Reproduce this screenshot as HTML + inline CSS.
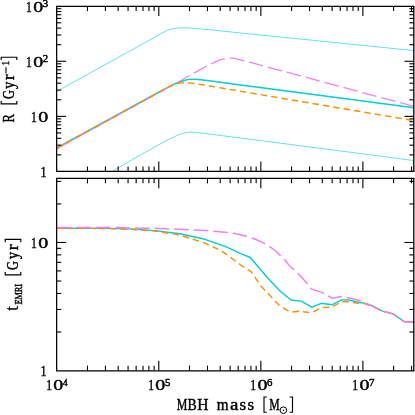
<!DOCTYPE html>
<html><head><meta charset="utf-8"><style>
html,body{margin:0;padding:0;background:#fff;}
body{width:415px;height:415px;overflow:hidden;font-family:"Liberation Serif",serif;}
svg{display:block;will-change:transform;opacity:0.999;}
</style></head><body>
<svg width="415" height="415" viewBox="0 0 415 415" font-family="Liberation Serif, serif" fill="#000" stroke-linecap="butt"><clipPath id="c1"><rect x="56.75" y="6.2" width="357.15" height="165.25"/></clipPath>
<clipPath id="c2"><rect x="56.75" y="178.45" width="357.15" height="192.10000000000002"/></clipPath>
<g clip-path="url(#c1)">
<polyline points="56.75,91.40 95.10,70.20 130.00,50.90 150.00,39.80 158.70,34.80 167.30,30.40 171.00,29.20 174.60,28.40 180.40,27.80 189.00,27.80 193.40,28.40 200.00,28.90 210.00,29.70 234.00,32.30 304.00,39.40 413.90,50.60" fill="none" stroke="#00CED1" stroke-width="0.6" stroke-linejoin="round"/>
<polyline points="112.20,171.30 133.90,158.60 160.00,144.10 170.00,138.70 177.70,135.10 183.00,133.20 189.00,132.10 195.00,132.20 200.00,132.80 214.00,134.60 311.00,147.10 413.90,160.60" fill="none" stroke="#00CED1" stroke-width="0.6" stroke-linejoin="round"/>
<polyline points="56.75,148.00 150.00,97.00 165.00,88.90 175.00,83.70 180.00,81.80 184.00,80.50 188.70,79.40 195.00,79.30 201.00,79.70 215.00,81.50 235.00,84.20 304.00,93.20 413.90,107.70" fill="none" stroke="#00CED1" stroke-width="1.45" stroke-linejoin="round"/>
<path d="M56.75,148.60 L69.55,141.58 M73.92,139.19 L86.72,132.17 M91.09,129.78 L103.90,122.76 M108.26,120.37 L121.07,113.36 M125.43,110.96 L138.24,103.95 M142.60,101.55 L150.00,97.50 L155.42,94.55 M159.79,92.17 L172.62,85.20 M176.97,82.78 L189.66,75.56 M193.99,73.10 L206.76,66.02 M211.28,63.93 L215.00,62.20 L219.80,59.90 L224.87,58.85 M229.80,58.16 L230.20,58.10 L233.00,58.20 L236.70,58.90 L244.07,60.86 M248.91,62.02 L249.70,62.20 L263.02,65.80 M267.82,67.12 L275.00,69.10 L281.91,70.93 M286.73,72.20 L300.84,75.93 M305.65,77.23 L311.00,78.70 L319.74,81.05 M324.55,82.35 L338.65,86.14 M343.45,87.44 L357.55,91.23 M362.36,92.53 L376.46,96.32 M381.27,97.62 L395.37,101.41 M400.18,102.71 L413.90,106.40" fill="none" stroke="#EE82EE" stroke-width="1.3" stroke-linejoin="round"/>
<path d="M57.10,148.11 L62.71,145.03 M66.33,143.05 L71.94,139.98 M75.55,138.00 L81.16,134.92 M84.78,132.94 L90.39,129.87 M94.00,127.89 L99.62,124.81 M103.23,122.83 L108.84,119.75 M112.45,117.77 L118.07,114.70 M121.68,112.72 L127.29,109.64 M130.91,107.66 L136.52,104.59 M140.13,102.61 L145.74,99.53 M149.36,97.55 L150.00,97.20 L154.96,94.46 M158.56,92.46 L164.16,89.36 M167.81,87.45 L172.00,85.30 L173.60,84.74 M177.54,83.58 L180.80,82.90 L183.87,82.75 M187.98,82.83 L189.50,82.90 L194.34,83.52 M198.42,84.11 L201.00,84.50 L204.74,85.14 M208.80,85.83 L215.11,86.91 M219.17,87.60 L225.48,88.68 M229.54,89.37 L235.00,90.30 L235.85,90.44 M239.91,91.13 L246.22,92.20 M250.28,92.89 L256.59,93.96 M260.65,94.65 L266.96,95.72 M271.02,96.41 L277.33,97.48 M281.40,98.17 L287.71,99.24 M291.77,99.93 L298.08,101.00 M302.14,101.68 L304.00,102.00 L308.45,102.76 M312.51,103.45 L318.82,104.52 M322.88,105.21 L329.19,106.29 M333.25,106.98 L339.56,108.05 M343.62,108.74 L349.93,109.82 M354.00,110.51 L360.30,111.58 M364.37,112.27 L370.68,113.35 M374.74,114.04 L381.05,115.11 M385.11,115.80 L391.42,116.87 M395.48,117.57 L401.79,118.64 M405.85,119.33 L412.16,120.40" fill="none" stroke="#FF8C00" stroke-width="1.45" stroke-linejoin="round"/>
</g>
<g clip-path="url(#c2)">
<polyline points="56.75,228.30 105.00,228.40 130.00,228.90 155.00,230.60 180.00,233.80 205.00,239.30 220.00,244.60 225.00,246.40 234.00,250.30 239.50,253.20 250.30,257.50 265.10,275.00 274.20,285.00 280.80,291.70 291.00,300.00 301.10,301.10 311.90,307.20 321.30,303.30 332.30,304.70 341.70,299.90 348.30,299.90 359.80,302.50 363.70,303.10 372.30,306.00 382.50,311.10 393.30,314.00 404.20,321.60 413.90,322.20" fill="none" stroke="#00CED1" stroke-width="1.4" stroke-linejoin="round"/>
<path d="M57.15,228.30 L63.55,228.32 M67.67,228.33 L74.07,228.35 M78.19,228.37 L84.59,228.39 M88.71,228.40 L95.11,228.42 M99.23,228.43 L105.00,228.45 L105.63,228.47 M109.75,228.61 L116.14,228.83 M120.26,228.97 L126.66,229.19 M130.77,229.36 L137.16,229.82 M141.27,230.11 L147.65,230.57 M151.76,230.87 L155.00,231.10 L158.11,231.60 M162.18,232.25 L168.50,233.26 M172.57,233.91 L178.89,234.92 M182.85,236.01 L188.95,237.96 M192.87,239.22 L198.97,241.17 M202.89,242.42 L205.00,243.10 L208.79,244.87 M212.52,246.61 L218.32,249.32 M221.93,251.30 L225.00,253.20 L227.23,254.87 M230.53,257.33 L233.70,259.70 L235.65,261.18 M238.94,263.66 L242.30,266.20 L244.16,267.35 M247.66,269.53 L251.00,271.60 L252.41,273.63 M254.76,277.01 L258.30,282.10 L258.40,282.28 M260.55,285.76 L265.03,290.33 M267.91,293.27 L270.00,295.40 L272.32,297.91 M275.12,300.93 L278.70,304.80 L279.64,305.43 M283.08,307.70 L287.30,310.50 L288.58,310.88 M292.54,311.99 L298.90,311.30 L298.90,311.30 M302.99,311.78 L308.30,312.40 L309.36,312.40 M313.37,311.98 L318.97,308.88 M322.76,307.53 L328.00,307.30 L329.15,307.19 M333.13,306.42 L338.68,303.24 M342.33,301.53 L348.30,301.80 L348.72,301.86 M352.80,302.47 L359.13,303.40 M363.24,303.41 L363.70,303.40 L369.35,305.24 M373.22,306.64 L378.99,309.41 M382.71,311.16 L388.89,312.82 M392.87,313.89 L393.30,314.00 L398.19,317.41 M401.57,319.76 L404.20,321.60 L407.38,321.80 M411.50,322.05 L413.90,322.20" fill="none" stroke="#FF8C00" stroke-width="1.4" stroke-linejoin="round"/>
<path d="M56.75,227.40 L71.35,227.43 M76.33,227.44 L90.93,227.46 M95.91,227.47 L110.00,227.50 L110.51,227.51 M115.49,227.61 L130.00,227.90 L130.09,227.90 M135.07,227.98 L149.66,228.19 M154.64,228.37 L169.23,228.91 M174.21,229.09 L180.00,229.30 L188.79,229.76 M193.76,230.02 L205.00,230.60 L208.34,230.87 M213.30,231.26 L225.00,232.20 L227.84,232.55 M232.79,233.15 L234.00,233.30 L246.70,236.30 L247.01,236.41 M251.72,238.03 L256.00,239.50 L264.00,243.10 L265.11,243.78 M269.35,246.40 L270.00,246.80 L275.60,251.00 L280.64,255.61 M284.16,259.14 L285.00,260.00 L288.80,265.00 L294.01,269.85 M297.65,273.24 L298.90,274.40 L307.60,283.80 L307.65,283.87 M310.52,287.94 L311.20,288.90 L315.00,290.20 L320.60,291.90 L323.00,293.10 L323.77,293.52 M328.13,295.91 L332.30,298.20 L341.70,296.50 L341.99,296.55 M346.89,297.40 L359.80,300.60 L360.96,301.19 M365.48,303.26 L372.30,305.80 L378.80,309.18 M383.28,311.31 L393.30,314.00 L396.77,316.42 M400.85,319.27 L404.20,321.60 L413.90,322.20" fill="none" stroke="#EE82EE" stroke-width="1.5" stroke-linejoin="round"/>
</g>
<line x1="56.03" y1="6.30" x2="414.42" y2="6.30" stroke="#000" stroke-width="1.25"/>
<line x1="56.03" y1="171.30" x2="414.42" y2="171.30" stroke="#000" stroke-width="1.25"/>
<line x1="56.65" y1="6.30" x2="56.65" y2="171.30" stroke="#000" stroke-width="1.25"/>
<line x1="413.80" y1="6.30" x2="413.80" y2="171.30" stroke="#000" stroke-width="1.3"/>
<line x1="56.03" y1="178.25" x2="414.42" y2="178.25" stroke="#000" stroke-width="1.25"/>
<line x1="56.03" y1="370.95" x2="414.42" y2="370.95" stroke="#000" stroke-width="1.2"/>
<line x1="56.65" y1="178.25" x2="56.65" y2="370.95" stroke="#000" stroke-width="1.25"/>
<line x1="413.80" y1="178.25" x2="413.80" y2="370.95" stroke="#000" stroke-width="1.3"/>
<line x1="87.47" y1="6.20" x2="87.47" y2="11.10" stroke="#000" stroke-width="1.1"/>
<line x1="87.47" y1="171.45" x2="87.47" y2="166.55" stroke="#000" stroke-width="1.1"/>
<line x1="105.44" y1="6.20" x2="105.44" y2="11.10" stroke="#000" stroke-width="1.1"/>
<line x1="105.44" y1="171.45" x2="105.44" y2="166.55" stroke="#000" stroke-width="1.1"/>
<line x1="118.19" y1="6.20" x2="118.19" y2="11.10" stroke="#000" stroke-width="1.1"/>
<line x1="118.19" y1="171.45" x2="118.19" y2="166.55" stroke="#000" stroke-width="1.1"/>
<line x1="128.07" y1="6.20" x2="128.07" y2="11.10" stroke="#000" stroke-width="1.1"/>
<line x1="128.07" y1="171.45" x2="128.07" y2="166.55" stroke="#000" stroke-width="1.1"/>
<line x1="136.15" y1="6.20" x2="136.15" y2="11.10" stroke="#000" stroke-width="1.1"/>
<line x1="136.15" y1="171.45" x2="136.15" y2="166.55" stroke="#000" stroke-width="1.1"/>
<line x1="142.99" y1="6.20" x2="142.99" y2="11.10" stroke="#000" stroke-width="1.1"/>
<line x1="142.99" y1="171.45" x2="142.99" y2="166.55" stroke="#000" stroke-width="1.1"/>
<line x1="148.90" y1="6.20" x2="148.90" y2="11.10" stroke="#000" stroke-width="1.1"/>
<line x1="148.90" y1="171.45" x2="148.90" y2="166.55" stroke="#000" stroke-width="1.1"/>
<line x1="154.12" y1="6.20" x2="154.12" y2="11.10" stroke="#000" stroke-width="1.1"/>
<line x1="154.12" y1="171.45" x2="154.12" y2="166.55" stroke="#000" stroke-width="1.1"/>
<line x1="158.79" y1="6.20" x2="158.79" y2="16.10" stroke="#000" stroke-width="1.1"/>
<line x1="158.79" y1="171.45" x2="158.79" y2="161.55" stroke="#000" stroke-width="1.1"/>
<line x1="189.51" y1="6.20" x2="189.51" y2="11.10" stroke="#000" stroke-width="1.1"/>
<line x1="189.51" y1="171.45" x2="189.51" y2="166.55" stroke="#000" stroke-width="1.1"/>
<line x1="207.48" y1="6.20" x2="207.48" y2="11.10" stroke="#000" stroke-width="1.1"/>
<line x1="207.48" y1="171.45" x2="207.48" y2="166.55" stroke="#000" stroke-width="1.1"/>
<line x1="220.23" y1="6.20" x2="220.23" y2="11.10" stroke="#000" stroke-width="1.1"/>
<line x1="220.23" y1="171.45" x2="220.23" y2="166.55" stroke="#000" stroke-width="1.1"/>
<line x1="230.12" y1="6.20" x2="230.12" y2="11.10" stroke="#000" stroke-width="1.1"/>
<line x1="230.12" y1="171.45" x2="230.12" y2="166.55" stroke="#000" stroke-width="1.1"/>
<line x1="238.20" y1="6.20" x2="238.20" y2="11.10" stroke="#000" stroke-width="1.1"/>
<line x1="238.20" y1="171.45" x2="238.20" y2="166.55" stroke="#000" stroke-width="1.1"/>
<line x1="245.03" y1="6.20" x2="245.03" y2="11.10" stroke="#000" stroke-width="1.1"/>
<line x1="245.03" y1="171.45" x2="245.03" y2="166.55" stroke="#000" stroke-width="1.1"/>
<line x1="250.95" y1="6.20" x2="250.95" y2="11.10" stroke="#000" stroke-width="1.1"/>
<line x1="250.95" y1="171.45" x2="250.95" y2="166.55" stroke="#000" stroke-width="1.1"/>
<line x1="256.17" y1="6.20" x2="256.17" y2="11.10" stroke="#000" stroke-width="1.1"/>
<line x1="256.17" y1="171.45" x2="256.17" y2="166.55" stroke="#000" stroke-width="1.1"/>
<line x1="260.84" y1="6.20" x2="260.84" y2="16.10" stroke="#000" stroke-width="1.1"/>
<line x1="260.84" y1="171.45" x2="260.84" y2="161.55" stroke="#000" stroke-width="1.1"/>
<line x1="291.55" y1="6.20" x2="291.55" y2="11.10" stroke="#000" stroke-width="1.1"/>
<line x1="291.55" y1="171.45" x2="291.55" y2="166.55" stroke="#000" stroke-width="1.1"/>
<line x1="309.52" y1="6.20" x2="309.52" y2="11.10" stroke="#000" stroke-width="1.1"/>
<line x1="309.52" y1="171.45" x2="309.52" y2="166.55" stroke="#000" stroke-width="1.1"/>
<line x1="322.27" y1="6.20" x2="322.27" y2="11.10" stroke="#000" stroke-width="1.1"/>
<line x1="322.27" y1="171.45" x2="322.27" y2="166.55" stroke="#000" stroke-width="1.1"/>
<line x1="332.16" y1="6.20" x2="332.16" y2="11.10" stroke="#000" stroke-width="1.1"/>
<line x1="332.16" y1="171.45" x2="332.16" y2="166.55" stroke="#000" stroke-width="1.1"/>
<line x1="340.24" y1="6.20" x2="340.24" y2="11.10" stroke="#000" stroke-width="1.1"/>
<line x1="340.24" y1="171.45" x2="340.24" y2="166.55" stroke="#000" stroke-width="1.1"/>
<line x1="347.07" y1="6.20" x2="347.07" y2="11.10" stroke="#000" stroke-width="1.1"/>
<line x1="347.07" y1="171.45" x2="347.07" y2="166.55" stroke="#000" stroke-width="1.1"/>
<line x1="352.99" y1="6.20" x2="352.99" y2="11.10" stroke="#000" stroke-width="1.1"/>
<line x1="352.99" y1="171.45" x2="352.99" y2="166.55" stroke="#000" stroke-width="1.1"/>
<line x1="358.21" y1="6.20" x2="358.21" y2="11.10" stroke="#000" stroke-width="1.1"/>
<line x1="358.21" y1="171.45" x2="358.21" y2="166.55" stroke="#000" stroke-width="1.1"/>
<line x1="362.88" y1="6.20" x2="362.88" y2="16.10" stroke="#000" stroke-width="1.1"/>
<line x1="362.88" y1="171.45" x2="362.88" y2="161.55" stroke="#000" stroke-width="1.1"/>
<line x1="393.60" y1="6.20" x2="393.60" y2="11.10" stroke="#000" stroke-width="1.1"/>
<line x1="393.60" y1="171.45" x2="393.60" y2="166.55" stroke="#000" stroke-width="1.1"/>
<line x1="411.57" y1="6.20" x2="411.57" y2="11.10" stroke="#000" stroke-width="1.1"/>
<line x1="411.57" y1="171.45" x2="411.57" y2="166.55" stroke="#000" stroke-width="1.1"/>
<line x1="87.47" y1="178.45" x2="87.47" y2="183.35" stroke="#000" stroke-width="1.1"/>
<line x1="87.47" y1="370.55" x2="87.47" y2="365.65" stroke="#000" stroke-width="1.1"/>
<line x1="105.44" y1="178.45" x2="105.44" y2="183.35" stroke="#000" stroke-width="1.1"/>
<line x1="105.44" y1="370.55" x2="105.44" y2="365.65" stroke="#000" stroke-width="1.1"/>
<line x1="118.19" y1="178.45" x2="118.19" y2="183.35" stroke="#000" stroke-width="1.1"/>
<line x1="118.19" y1="370.55" x2="118.19" y2="365.65" stroke="#000" stroke-width="1.1"/>
<line x1="128.07" y1="178.45" x2="128.07" y2="183.35" stroke="#000" stroke-width="1.1"/>
<line x1="128.07" y1="370.55" x2="128.07" y2="365.65" stroke="#000" stroke-width="1.1"/>
<line x1="136.15" y1="178.45" x2="136.15" y2="183.35" stroke="#000" stroke-width="1.1"/>
<line x1="136.15" y1="370.55" x2="136.15" y2="365.65" stroke="#000" stroke-width="1.1"/>
<line x1="142.99" y1="178.45" x2="142.99" y2="183.35" stroke="#000" stroke-width="1.1"/>
<line x1="142.99" y1="370.55" x2="142.99" y2="365.65" stroke="#000" stroke-width="1.1"/>
<line x1="148.90" y1="178.45" x2="148.90" y2="183.35" stroke="#000" stroke-width="1.1"/>
<line x1="148.90" y1="370.55" x2="148.90" y2="365.65" stroke="#000" stroke-width="1.1"/>
<line x1="154.12" y1="178.45" x2="154.12" y2="183.35" stroke="#000" stroke-width="1.1"/>
<line x1="154.12" y1="370.55" x2="154.12" y2="365.65" stroke="#000" stroke-width="1.1"/>
<line x1="158.79" y1="178.45" x2="158.79" y2="188.35" stroke="#000" stroke-width="1.1"/>
<line x1="158.79" y1="370.55" x2="158.79" y2="360.65" stroke="#000" stroke-width="1.1"/>
<line x1="189.51" y1="178.45" x2="189.51" y2="183.35" stroke="#000" stroke-width="1.1"/>
<line x1="189.51" y1="370.55" x2="189.51" y2="365.65" stroke="#000" stroke-width="1.1"/>
<line x1="207.48" y1="178.45" x2="207.48" y2="183.35" stroke="#000" stroke-width="1.1"/>
<line x1="207.48" y1="370.55" x2="207.48" y2="365.65" stroke="#000" stroke-width="1.1"/>
<line x1="220.23" y1="178.45" x2="220.23" y2="183.35" stroke="#000" stroke-width="1.1"/>
<line x1="220.23" y1="370.55" x2="220.23" y2="365.65" stroke="#000" stroke-width="1.1"/>
<line x1="230.12" y1="178.45" x2="230.12" y2="183.35" stroke="#000" stroke-width="1.1"/>
<line x1="230.12" y1="370.55" x2="230.12" y2="365.65" stroke="#000" stroke-width="1.1"/>
<line x1="238.20" y1="178.45" x2="238.20" y2="183.35" stroke="#000" stroke-width="1.1"/>
<line x1="238.20" y1="370.55" x2="238.20" y2="365.65" stroke="#000" stroke-width="1.1"/>
<line x1="245.03" y1="178.45" x2="245.03" y2="183.35" stroke="#000" stroke-width="1.1"/>
<line x1="245.03" y1="370.55" x2="245.03" y2="365.65" stroke="#000" stroke-width="1.1"/>
<line x1="250.95" y1="178.45" x2="250.95" y2="183.35" stroke="#000" stroke-width="1.1"/>
<line x1="250.95" y1="370.55" x2="250.95" y2="365.65" stroke="#000" stroke-width="1.1"/>
<line x1="256.17" y1="178.45" x2="256.17" y2="183.35" stroke="#000" stroke-width="1.1"/>
<line x1="256.17" y1="370.55" x2="256.17" y2="365.65" stroke="#000" stroke-width="1.1"/>
<line x1="260.84" y1="178.45" x2="260.84" y2="188.35" stroke="#000" stroke-width="1.1"/>
<line x1="260.84" y1="370.55" x2="260.84" y2="360.65" stroke="#000" stroke-width="1.1"/>
<line x1="291.55" y1="178.45" x2="291.55" y2="183.35" stroke="#000" stroke-width="1.1"/>
<line x1="291.55" y1="370.55" x2="291.55" y2="365.65" stroke="#000" stroke-width="1.1"/>
<line x1="309.52" y1="178.45" x2="309.52" y2="183.35" stroke="#000" stroke-width="1.1"/>
<line x1="309.52" y1="370.55" x2="309.52" y2="365.65" stroke="#000" stroke-width="1.1"/>
<line x1="322.27" y1="178.45" x2="322.27" y2="183.35" stroke="#000" stroke-width="1.1"/>
<line x1="322.27" y1="370.55" x2="322.27" y2="365.65" stroke="#000" stroke-width="1.1"/>
<line x1="332.16" y1="178.45" x2="332.16" y2="183.35" stroke="#000" stroke-width="1.1"/>
<line x1="332.16" y1="370.55" x2="332.16" y2="365.65" stroke="#000" stroke-width="1.1"/>
<line x1="340.24" y1="178.45" x2="340.24" y2="183.35" stroke="#000" stroke-width="1.1"/>
<line x1="340.24" y1="370.55" x2="340.24" y2="365.65" stroke="#000" stroke-width="1.1"/>
<line x1="347.07" y1="178.45" x2="347.07" y2="183.35" stroke="#000" stroke-width="1.1"/>
<line x1="347.07" y1="370.55" x2="347.07" y2="365.65" stroke="#000" stroke-width="1.1"/>
<line x1="352.99" y1="178.45" x2="352.99" y2="183.35" stroke="#000" stroke-width="1.1"/>
<line x1="352.99" y1="370.55" x2="352.99" y2="365.65" stroke="#000" stroke-width="1.1"/>
<line x1="358.21" y1="178.45" x2="358.21" y2="183.35" stroke="#000" stroke-width="1.1"/>
<line x1="358.21" y1="370.55" x2="358.21" y2="365.65" stroke="#000" stroke-width="1.1"/>
<line x1="362.88" y1="178.45" x2="362.88" y2="188.35" stroke="#000" stroke-width="1.1"/>
<line x1="362.88" y1="370.55" x2="362.88" y2="360.65" stroke="#000" stroke-width="1.1"/>
<line x1="393.60" y1="178.45" x2="393.60" y2="183.35" stroke="#000" stroke-width="1.1"/>
<line x1="393.60" y1="370.55" x2="393.60" y2="365.65" stroke="#000" stroke-width="1.1"/>
<line x1="411.57" y1="178.45" x2="411.57" y2="183.35" stroke="#000" stroke-width="1.1"/>
<line x1="411.57" y1="370.55" x2="411.57" y2="365.65" stroke="#000" stroke-width="1.1"/>
<line x1="56.75" y1="154.87" x2="61.25" y2="154.87" stroke="#000" stroke-width="1.1"/>
<line x1="413.90" y1="154.87" x2="409.40" y2="154.87" stroke="#000" stroke-width="1.1"/>
<line x1="56.75" y1="145.17" x2="61.25" y2="145.17" stroke="#000" stroke-width="1.1"/>
<line x1="413.90" y1="145.17" x2="409.40" y2="145.17" stroke="#000" stroke-width="1.1"/>
<line x1="56.75" y1="138.29" x2="61.25" y2="138.29" stroke="#000" stroke-width="1.1"/>
<line x1="413.90" y1="138.29" x2="409.40" y2="138.29" stroke="#000" stroke-width="1.1"/>
<line x1="56.75" y1="132.95" x2="61.25" y2="132.95" stroke="#000" stroke-width="1.1"/>
<line x1="413.90" y1="132.95" x2="409.40" y2="132.95" stroke="#000" stroke-width="1.1"/>
<line x1="56.75" y1="128.59" x2="61.25" y2="128.59" stroke="#000" stroke-width="1.1"/>
<line x1="413.90" y1="128.59" x2="409.40" y2="128.59" stroke="#000" stroke-width="1.1"/>
<line x1="56.75" y1="124.90" x2="61.25" y2="124.90" stroke="#000" stroke-width="1.1"/>
<line x1="413.90" y1="124.90" x2="409.40" y2="124.90" stroke="#000" stroke-width="1.1"/>
<line x1="56.75" y1="121.70" x2="61.25" y2="121.70" stroke="#000" stroke-width="1.1"/>
<line x1="413.90" y1="121.70" x2="409.40" y2="121.70" stroke="#000" stroke-width="1.1"/>
<line x1="56.75" y1="118.89" x2="61.25" y2="118.89" stroke="#000" stroke-width="1.1"/>
<line x1="413.90" y1="118.89" x2="409.40" y2="118.89" stroke="#000" stroke-width="1.1"/>
<line x1="56.75" y1="116.37" x2="66.15" y2="116.37" stroke="#000" stroke-width="1.1"/>
<line x1="413.90" y1="116.37" x2="404.50" y2="116.37" stroke="#000" stroke-width="1.1"/>
<line x1="56.75" y1="99.78" x2="61.25" y2="99.78" stroke="#000" stroke-width="1.1"/>
<line x1="413.90" y1="99.78" x2="409.40" y2="99.78" stroke="#000" stroke-width="1.1"/>
<line x1="56.75" y1="90.09" x2="61.25" y2="90.09" stroke="#000" stroke-width="1.1"/>
<line x1="413.90" y1="90.09" x2="409.40" y2="90.09" stroke="#000" stroke-width="1.1"/>
<line x1="56.75" y1="83.20" x2="61.25" y2="83.20" stroke="#000" stroke-width="1.1"/>
<line x1="413.90" y1="83.20" x2="409.40" y2="83.20" stroke="#000" stroke-width="1.1"/>
<line x1="56.75" y1="77.87" x2="61.25" y2="77.87" stroke="#000" stroke-width="1.1"/>
<line x1="413.90" y1="77.87" x2="409.40" y2="77.87" stroke="#000" stroke-width="1.1"/>
<line x1="56.75" y1="73.50" x2="61.25" y2="73.50" stroke="#000" stroke-width="1.1"/>
<line x1="413.90" y1="73.50" x2="409.40" y2="73.50" stroke="#000" stroke-width="1.1"/>
<line x1="56.75" y1="69.82" x2="61.25" y2="69.82" stroke="#000" stroke-width="1.1"/>
<line x1="413.90" y1="69.82" x2="409.40" y2="69.82" stroke="#000" stroke-width="1.1"/>
<line x1="56.75" y1="66.62" x2="61.25" y2="66.62" stroke="#000" stroke-width="1.1"/>
<line x1="413.90" y1="66.62" x2="409.40" y2="66.62" stroke="#000" stroke-width="1.1"/>
<line x1="56.75" y1="63.80" x2="61.25" y2="63.80" stroke="#000" stroke-width="1.1"/>
<line x1="413.90" y1="63.80" x2="409.40" y2="63.80" stroke="#000" stroke-width="1.1"/>
<line x1="56.75" y1="61.28" x2="66.15" y2="61.28" stroke="#000" stroke-width="1.1"/>
<line x1="413.90" y1="61.28" x2="404.50" y2="61.28" stroke="#000" stroke-width="1.1"/>
<line x1="56.75" y1="44.70" x2="61.25" y2="44.70" stroke="#000" stroke-width="1.1"/>
<line x1="413.90" y1="44.70" x2="409.40" y2="44.70" stroke="#000" stroke-width="1.1"/>
<line x1="56.75" y1="35.00" x2="61.25" y2="35.00" stroke="#000" stroke-width="1.1"/>
<line x1="413.90" y1="35.00" x2="409.40" y2="35.00" stroke="#000" stroke-width="1.1"/>
<line x1="56.75" y1="28.12" x2="61.25" y2="28.12" stroke="#000" stroke-width="1.1"/>
<line x1="413.90" y1="28.12" x2="409.40" y2="28.12" stroke="#000" stroke-width="1.1"/>
<line x1="56.75" y1="22.78" x2="61.25" y2="22.78" stroke="#000" stroke-width="1.1"/>
<line x1="413.90" y1="22.78" x2="409.40" y2="22.78" stroke="#000" stroke-width="1.1"/>
<line x1="56.75" y1="18.42" x2="61.25" y2="18.42" stroke="#000" stroke-width="1.1"/>
<line x1="413.90" y1="18.42" x2="409.40" y2="18.42" stroke="#000" stroke-width="1.1"/>
<line x1="56.75" y1="14.73" x2="61.25" y2="14.73" stroke="#000" stroke-width="1.1"/>
<line x1="413.90" y1="14.73" x2="409.40" y2="14.73" stroke="#000" stroke-width="1.1"/>
<line x1="56.75" y1="11.54" x2="61.25" y2="11.54" stroke="#000" stroke-width="1.1"/>
<line x1="413.90" y1="11.54" x2="409.40" y2="11.54" stroke="#000" stroke-width="1.1"/>
<line x1="56.75" y1="8.72" x2="61.25" y2="8.72" stroke="#000" stroke-width="1.1"/>
<line x1="413.90" y1="8.72" x2="409.40" y2="8.72" stroke="#000" stroke-width="1.1"/>
<line x1="56.75" y1="332.00" x2="61.25" y2="332.00" stroke="#000" stroke-width="1.1"/>
<line x1="413.90" y1="332.00" x2="409.40" y2="332.00" stroke="#000" stroke-width="1.1"/>
<line x1="56.75" y1="309.45" x2="61.25" y2="309.45" stroke="#000" stroke-width="1.1"/>
<line x1="413.90" y1="309.45" x2="409.40" y2="309.45" stroke="#000" stroke-width="1.1"/>
<line x1="56.75" y1="293.45" x2="61.25" y2="293.45" stroke="#000" stroke-width="1.1"/>
<line x1="413.90" y1="293.45" x2="409.40" y2="293.45" stroke="#000" stroke-width="1.1"/>
<line x1="56.75" y1="281.04" x2="61.25" y2="281.04" stroke="#000" stroke-width="1.1"/>
<line x1="413.90" y1="281.04" x2="409.40" y2="281.04" stroke="#000" stroke-width="1.1"/>
<line x1="56.75" y1="270.89" x2="61.25" y2="270.89" stroke="#000" stroke-width="1.1"/>
<line x1="413.90" y1="270.89" x2="409.40" y2="270.89" stroke="#000" stroke-width="1.1"/>
<line x1="56.75" y1="262.32" x2="61.25" y2="262.32" stroke="#000" stroke-width="1.1"/>
<line x1="413.90" y1="262.32" x2="409.40" y2="262.32" stroke="#000" stroke-width="1.1"/>
<line x1="56.75" y1="254.89" x2="61.25" y2="254.89" stroke="#000" stroke-width="1.1"/>
<line x1="413.90" y1="254.89" x2="409.40" y2="254.89" stroke="#000" stroke-width="1.1"/>
<line x1="56.75" y1="248.34" x2="61.25" y2="248.34" stroke="#000" stroke-width="1.1"/>
<line x1="413.90" y1="248.34" x2="409.40" y2="248.34" stroke="#000" stroke-width="1.1"/>
<line x1="56.75" y1="242.48" x2="66.15" y2="242.48" stroke="#000" stroke-width="1.1"/>
<line x1="413.90" y1="242.48" x2="404.50" y2="242.48" stroke="#000" stroke-width="1.1"/>
<line x1="56.75" y1="203.93" x2="61.25" y2="203.93" stroke="#000" stroke-width="1.1"/>
<line x1="413.90" y1="203.93" x2="409.40" y2="203.93" stroke="#000" stroke-width="1.1"/>
<line x1="56.75" y1="181.38" x2="61.25" y2="181.38" stroke="#000" stroke-width="1.1"/>
<line x1="413.90" y1="181.38" x2="409.40" y2="181.38" stroke="#000" stroke-width="1.1"/>
<g stroke="#000" stroke-width="0.42">
<text x="28.95" y="12.05" font-size="15.2" text-anchor="middle" textLength="5.8" lengthAdjust="spacingAndGlyphs">1</text>
<text x="38.25" y="12.05" font-size="15.2" text-anchor="middle" textLength="10.0" lengthAdjust="spacingAndGlyphs">0</text>
<text x="45.55" y="7.30" font-size="9.3" text-anchor="middle" textLength="5.4" lengthAdjust="spacingAndGlyphs">3</text>
<text x="28.95" y="67.20" font-size="15.2" text-anchor="middle" textLength="5.8" lengthAdjust="spacingAndGlyphs">1</text>
<text x="38.25" y="67.20" font-size="15.2" text-anchor="middle" textLength="10.0" lengthAdjust="spacingAndGlyphs">0</text>
<text x="45.55" y="62.45" font-size="9.3" text-anchor="middle" textLength="5.4" lengthAdjust="spacingAndGlyphs">2</text>
<text x="34.00" y="121.70" font-size="15.2" text-anchor="middle" textLength="5.8" lengthAdjust="spacingAndGlyphs">1</text>
<text x="43.30" y="121.70" font-size="15.2" text-anchor="middle" textLength="10.0" lengthAdjust="spacingAndGlyphs">0</text>
<text x="43.60" y="176.90" font-size="15.2" text-anchor="middle" textLength="6.0" lengthAdjust="spacingAndGlyphs">1</text>
<text x="34.00" y="247.90" font-size="15.2" text-anchor="middle" textLength="5.8" lengthAdjust="spacingAndGlyphs">1</text>
<text x="43.30" y="247.90" font-size="15.2" text-anchor="middle" textLength="10.0" lengthAdjust="spacingAndGlyphs">0</text>
<text x="43.60" y="375.80" font-size="15.2" text-anchor="middle" textLength="6.0" lengthAdjust="spacingAndGlyphs">1</text>
<text x="49.05" y="389.90" font-size="15.2" text-anchor="middle" textLength="5.8" lengthAdjust="spacingAndGlyphs">1</text>
<text x="58.35" y="389.90" font-size="15.2" text-anchor="middle" textLength="10.0" lengthAdjust="spacingAndGlyphs">0</text>
<text x="65.35" y="385.50" font-size="9.3" text-anchor="middle" textLength="4.6" lengthAdjust="spacingAndGlyphs">4</text>
<text x="151.09" y="389.90" font-size="15.2" text-anchor="middle" textLength="5.8" lengthAdjust="spacingAndGlyphs">1</text>
<text x="160.39" y="389.90" font-size="15.2" text-anchor="middle" textLength="10.0" lengthAdjust="spacingAndGlyphs">0</text>
<text x="167.69" y="385.50" font-size="9.3" text-anchor="middle" textLength="5.4" lengthAdjust="spacingAndGlyphs">5</text>
<text x="253.14" y="389.90" font-size="15.2" text-anchor="middle" textLength="5.8" lengthAdjust="spacingAndGlyphs">1</text>
<text x="262.44" y="389.90" font-size="15.2" text-anchor="middle" textLength="10.0" lengthAdjust="spacingAndGlyphs">0</text>
<text x="269.74" y="385.50" font-size="9.3" text-anchor="middle" textLength="5.4" lengthAdjust="spacingAndGlyphs">6</text>
<text x="355.18" y="389.90" font-size="15.2" text-anchor="middle" textLength="5.8" lengthAdjust="spacingAndGlyphs">1</text>
<text x="364.48" y="389.90" font-size="15.2" text-anchor="middle" textLength="10.0" lengthAdjust="spacingAndGlyphs">0</text>
<text x="371.78" y="385.50" font-size="9.3" text-anchor="middle" textLength="5.4" lengthAdjust="spacingAndGlyphs">7</text>
<g transform="translate(13.7,122.1) rotate(-90)">
<text x="3.85" y="0.00" font-size="16.0" text-anchor="middle" textLength="8.4" lengthAdjust="spacingAndGlyphs">R</text>
<path d="M21.20,-12.5 H18.30 V3.1 H21.20" fill="none" stroke="#000" stroke-width="1.15"/>
<text x="27.70" y="0.00" font-size="16.0" text-anchor="middle" textLength="9.0" lengthAdjust="spacingAndGlyphs">G</text>
<text x="36.90" y="0.00" font-size="16.0" text-anchor="middle" textLength="7.4" lengthAdjust="spacingAndGlyphs">y</text>
<text x="44.85" y="0.00" font-size="16.0" text-anchor="middle" textLength="5.6" lengthAdjust="spacingAndGlyphs">r</text>
<line x1="48.5" y1="-7.7" x2="54.8" y2="-7.7" stroke="#000" stroke-width="1.1"/>
<text x="58.85" y="-4.50" font-size="9.4" text-anchor="middle" textLength="4.2" lengthAdjust="spacingAndGlyphs">1</text>
<path d="M62.00,-12.5 H64.90 V3.1 H62.00" fill="none" stroke="#000" stroke-width="1.15"/>
</g>
<g transform="translate(17.7,311.1) rotate(-90)">
<text x="2.65" y="0" font-size="18" text-anchor="middle" textLength="5.2" lengthAdjust="spacingAndGlyphs" stroke-width="0.12">t</text>
<text x="16.80" y="4.00" font-size="9.4" text-anchor="middle" textLength="20.6" lengthAdjust="spacingAndGlyphs">EMRI</text>
<path d="M39.20,-12.5 H36.30 V3.1 H39.20" fill="none" stroke="#000" stroke-width="1.15"/>
<text x="45.50" y="0.00" font-size="16.0" text-anchor="middle" textLength="9.0" lengthAdjust="spacingAndGlyphs">G</text>
<text x="55.60" y="0.00" font-size="16.0" text-anchor="middle" textLength="7.4" lengthAdjust="spacingAndGlyphs">y</text>
<text x="63.80" y="0.00" font-size="16.0" text-anchor="middle" textLength="5.8" lengthAdjust="spacingAndGlyphs">r</text>
<path d="M68.90,-12.5 H71.80 V3.1 H68.90" fill="none" stroke="#000" stroke-width="1.15"/>
</g>
<g transform="translate(0,409.7)">
<text x="182.00" y="0.00" font-size="16.0" text-anchor="middle" textLength="10.6" lengthAdjust="spacingAndGlyphs">M</text>
<text x="192.20" y="0.00" font-size="16.0" text-anchor="middle" textLength="9.2" lengthAdjust="spacingAndGlyphs">B</text>
<text x="202.80" y="0.00" font-size="16.0" text-anchor="middle" textLength="11.2" lengthAdjust="spacingAndGlyphs">H</text>
<text x="222.60" y="0.00" font-size="16.0" text-anchor="middle" textLength="11.8" lengthAdjust="spacingAndGlyphs">m</text>
<text x="234.30" y="0.00" font-size="16.0" text-anchor="middle" textLength="8.4" lengthAdjust="spacingAndGlyphs">a</text>
<text x="242.80" y="0.00" font-size="16.0" text-anchor="middle" textLength="6.6" lengthAdjust="spacingAndGlyphs">s</text>
<text x="250.90" y="0.00" font-size="16.0" text-anchor="middle" textLength="6.6" lengthAdjust="spacingAndGlyphs">s</text>
<path d="M266.90,-12.7 H264.00 V2.5 H266.90" fill="none" stroke="#000" stroke-width="1.15"/>
<text x="274.40" y="0.00" font-size="16.0" text-anchor="middle" textLength="10.4" lengthAdjust="spacingAndGlyphs">M</text>
<circle cx="283.4" cy="0.5" r="3.3" fill="none" stroke="#000" stroke-width="1.0"/><circle cx="283.4" cy="0.5" r="0.8" fill="#000" stroke="none"/>
<path d="M289.60,-12.7 H292.50 V2.5 H289.60" fill="none" stroke="#000" stroke-width="1.15"/>
</g>
</g>
</svg>
</body></html>
